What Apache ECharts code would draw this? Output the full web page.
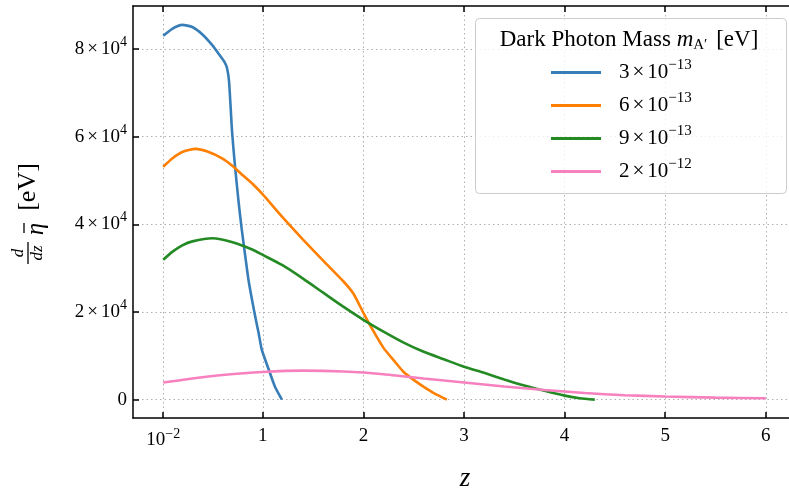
<!DOCTYPE html>
<html>
<head>
<meta charset="utf-8">
<script src="https://cdn.jsdelivr.net/npm/echarts@6/dist/echarts.min.js"></script>
<style>
  html, body { margin: 0; padding: 0; background: #ffffff; }
  #chart { width: 789px; height: 488px; }
</style>
</head>
<body>
<div id="chart"></div>
<script>
// Energy deposition rate d(eta-bar)/dz versus redshift z for four dark photon masses
const SERIF = '"Liberation Serif", "DejaVu Serif", serif';

const seriesNames = ['3e-13', '6e-13', '9e-13', '2e-12'];
const massMantissa = ['3', '6', '9', '2'];
const massExponent = ['\u221213', '\u221213', '\u221213', '\u221212'];
const colors = ['#377eb8', '#ff7f00', '#248a24', '#f781bf'];

// m = 3e-13 eV
const zA = [0.01, 0.1, 0.2, 0.3, 0.4, 0.5, 0.57, 0.62, 0.645, 0.665, 0.695, 0.725, 0.76, 0.79, 0.83, 0.86, 0.92, 0.96, 0.99, 1.06, 1.12, 1.19];
const etaA = [83000, 84600, 85500, 85000, 83300, 80800, 78600, 77000, 75600, 72500, 61000, 53000, 45000, 39000, 32000, 27000, 19500, 15000, 11400, 6800, 3000, 0];

// m = 6e-13 eV
const zB = [0.01, 0.1, 0.2, 0.33, 0.45, 0.6, 0.7, 0.8, 0.9, 1.0, 1.2, 1.4, 1.6, 1.8, 1.9, 2.0, 2.1, 2.2, 2.3, 2.4, 2.5, 2.6, 2.7, 2.83];
const etaB = [53100, 55000, 56500, 57200, 56600, 55000, 53300, 51200, 49200, 46800, 41500, 36500, 31700, 27000, 24200, 19800, 15600, 11800, 9000, 6300, 4500, 2900, 1500, 0];

// m = 9e-13 eV
const zC = [0.01, 0.1, 0.2, 0.3, 0.5, 0.7, 0.9, 1.0, 1.2, 1.4, 1.6, 1.8, 2.0, 2.2, 2.4, 2.6, 2.8, 3.0, 3.2, 3.4, 3.6, 3.8, 4.0, 4.15, 4.3];
const etaC = [31900, 33700, 35200, 36100, 36800, 35900, 34200, 33000, 30600, 27600, 24400, 21200, 18200, 15500, 13000, 10900, 9200, 7500, 6100, 4600, 3200, 2000, 900, 300, 0];

// m = 2e-12 eV
const zD = [0.01, 0.3, 0.6, 1.0, 1.4, 1.8, 2.2, 2.6, 3.0, 3.4, 3.8, 4.2, 4.6, 5.0, 5.5, 6.0];
const etaD = [3900, 4800, 5600, 6300, 6600, 6400, 5800, 4800, 3900, 3000, 2200, 1500, 1000, 700, 450, 300];

const xTicks = [0.01, 1, 2, 3, 4, 5, 6];
const xTickLabels = ['10{s|\u22122}', '1', '2', '3', '4', '5', '6'];
const yTicks = [0, 20000, 40000, 60000, 80000];
const yTickLabels = ['0', '2{x|\u00d7}10{s|4}', '4{x|\u00d7}10{s|4}', '6{x|\u00d7}10{s|4}', '8{x|\u00d7}10{s|4}'];

const zSets = [zA, zB, zC, zD];
const etaSets = [etaA, etaB, etaC, etaD];

function pickLabel(ticks, labels, v) {
  for (let i = 0; i < ticks.length; i++) {
    if (Math.abs(ticks[i] - v) < 1e-6 * Math.max(1, Math.abs(v))) return labels[i];
  }
  return '';
}

const richTick = {
  s: { fontFamily: SERIF, fontSize: 14, color: '#000', padding: [0, 0, 13, 0] },
  x: { fontFamily: SERIF, fontSize: 19, color: '#000', padding: [0, 3, 0, 3] }
};

const gridLine = { show: true, lineStyle: { color: '#b0b0b0', type: [1.5, 3], width: 1 } };

const chart = echarts.init(document.getElementById('chart'), null, { renderer: 'canvas' });

chart.setOption({
  backgroundColor: '#ffffff',
  animation: false,
  grid: { left: 133, top: 6, width: 663, height: 412, containLabel: false, outerBoundsMode: 'none' },
  xAxis: [
    {
      type: 'value', min: -0.29, max: 6.30, position: 'bottom',
      axisLine: { onZero: false, lineStyle: { color: '#000', width: 1.5 } },
      axisTick: { inside: true, length: 6, customValues: xTicks, lineStyle: { color: '#000', width: 1.5 } },
      axisLabel: {
        customValues: xTicks, margin: 9, color: '#000', fontFamily: SERIF, fontSize: 19,
        formatter: v => pickLabel(xTicks, xTickLabels, v), rich: richTick
      },
      splitLine: gridLine
    },
    {
      type: 'value', min: -0.29, max: 6.30, position: 'top',
      axisLine: { onZero: false, lineStyle: { color: '#000', width: 1.5 } },
      axisTick: { inside: true, length: 6, customValues: xTicks, lineStyle: { color: '#000', width: 1.5 } },
      axisLabel: { show: false },
      splitLine: { show: false }
    }
  ],
  yAxis: {
    type: 'value', min: -4200, max: 89800,
    axisLine: { show: true, onZero: false, lineStyle: { color: '#000', width: 1.5 } },
    axisTick: { show: true, inside: true, length: 6, customValues: yTicks, lineStyle: { color: '#000', width: 1.5 } },
    axisLabel: {
      customValues: yTicks, margin: 6, color: '#000', fontFamily: SERIF, fontSize: 19,
      formatter: v => pickLabel(yTicks, yTickLabels, v), rich: richTick
    },
    splitLine: gridLine
  },
  legend: {
    orient: 'vertical', left: 551, top: 56, padding: 0, itemGap: 0,
    itemWidth: 50, itemHeight: 3, icon: 'rect', selectedMode: false, z: 6,
    data: seriesNames,
    textStyle: {
      fontFamily: SERIF, fontSize: 21, color: '#000', lineHeight: 33, padding: [0, 0, 0, 13],
      rich: {
        s: { fontFamily: SERIF, fontSize: 15, color: '#000', padding: [0, 0, 14, 0] },
        x: { fontFamily: SERIF, fontSize: 21, color: '#000', padding: [0, 3, 0, 3] }
      }
    },
    formatter: name => {
      const i = seriesNames.indexOf(name);
      return massMantissa[i] + '{x|\u00d7}10{s|' + massExponent[i] + '}';
    }
  },
  series: seriesNames.map((name, i) => ({
    name: name,
    type: 'line',
    xAxisIndex: 0,
    data: zSets[i].map((z, k) => [z, etaSets[i][k]]),
    showSymbol: false,
    symbol: 'none',
    smooth: 0.2,
    color: colors[i],
    lineStyle: { color: colors[i], width: 2.6 },
    z: 2 + i * 0.1
  })),
  graphic: [
    {
      type: 'rect', z: 5,
      shape: { x: 475.5, y: 18.5, width: 311, height: 175, r: 4 },
      style: { fill: 'rgba(255,255,255,0.8)', stroke: '#cccccc', lineWidth: 1 }
    },
    {
      type: 'text', z: 6, x: 629, y: 40,
      style: {
        text: 'Dark Photon Mass {m|m}{sub|A\u2032} [eV]',
        fontFamily: SERIF, fontSize: 23, fill: '#000', align: 'center', verticalAlign: 'middle',
        rich: {
          m: { fontFamily: SERIF, fontSize: 23, fontStyle: 'italic', fill: '#000' },
          sub: { fontFamily: SERIF, fontSize: 15, fill: '#000', padding: [10, 3, 0, 0] }
        }
      }
    },
    {
      type: 'text', z: 6, x: 465, y: 479,
      style: { text: 'z', fontFamily: SERIF, fontSize: 27, fontStyle: 'italic', fill: '#000', align: 'center', verticalAlign: 'middle' }
    },
    {
      type: 'group', x: 28, y: 264, rotation: Math.PI / 2, z: 6,
      children: [
        { type: 'line', shape: { x1: 0, y1: 0, x2: 22, y2: 0 }, style: { stroke: '#000', lineWidth: 1.3 } },
        { type: 'text', x: 11, y: -1, style: { text: 'd', fontFamily: SERIF, fontSize: 17, fontStyle: 'italic', fill: '#000', align: 'center', verticalAlign: 'bottom' } },
        { type: 'text', x: 11, y: 1, style: { text: 'dz', fontFamily: SERIF, fontSize: 17, fontStyle: 'italic', fill: '#000', align: 'center', verticalAlign: 'top' } },
        { type: 'text', x: 35, y: 8, style: { text: '\u03b7', fontFamily: SERIF, fontSize: 25, fontStyle: 'italic', fill: '#000', align: 'center', verticalAlign: 'middle' } },
        { type: 'line', shape: { x1: 31, y1: -4, x2: 41, y2: -4 }, style: { stroke: '#000', lineWidth: 1.3 } },
        { type: 'text', x: 77, y: 0, style: { text: '[eV]', fontFamily: SERIF, fontSize: 26, fill: '#000', align: 'center', verticalAlign: 'middle' } }
      ]
    }
  ]
});
</script>
</body>
</html>
